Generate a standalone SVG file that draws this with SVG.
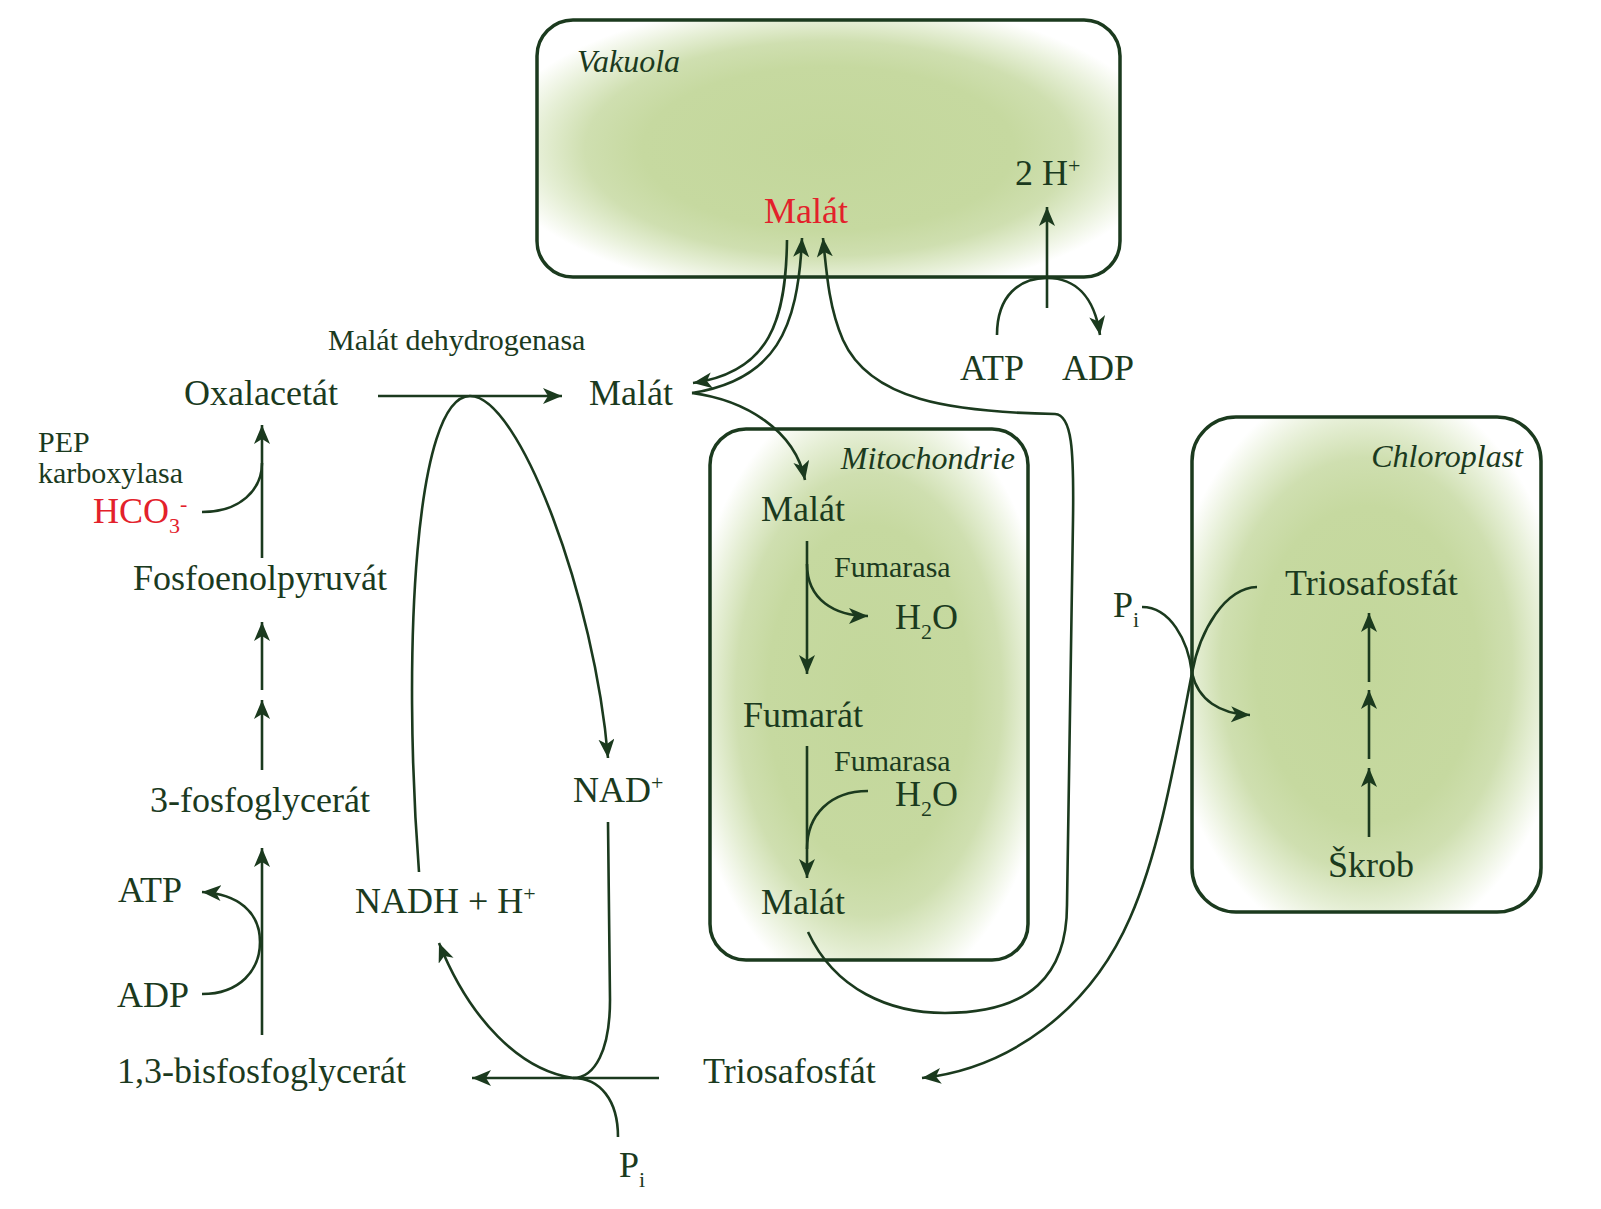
<svg xmlns="http://www.w3.org/2000/svg" width="1601" height="1209" viewBox="0 0 1601 1209">
<style>
  text { font-family: "Liberation Serif", "Times New Roman", serif; fill: #1b3a1e; font-size: 36px; }
  .s { font-size: 30px; }
  .it { font-style: italic; font-size: 32px; }
  .red { fill: #e3212b; }
  .sub { font-size: 22px; }
  .box { stroke: #1b3a1e; stroke-width: 3.5; }
  .c { fill: none; stroke: #1b3a1e; stroke-width: 2.6; }
  .a { marker-end: url(#ah); }
</style>
<defs>
  <radialGradient id="g" cx="0.5" cy="0.5" r="0.58">
    <stop offset="0" stop-color="#c3d79b"/>
    <stop offset="0.55" stop-color="#c6d9a0"/>
    <stop offset="0.72" stop-color="#cfdfb0"/>
    <stop offset="0.86" stop-color="#e6efd6"/>
    <stop offset="1" stop-color="#ffffff"/>
  </radialGradient>
  <marker id="ah" markerUnits="userSpaceOnUse" markerWidth="22" markerHeight="18" refX="19" refY="8" orient="auto">
    <path d="M0,0 L19,8 L0,16 L5,8 Z" fill="#1b3a1e"/>
  </marker>
</defs>

<g id="vakuola">
  <rect class="box" x="537" y="20" width="583" height="257" rx="36" fill="url(#g)"/>
  <text class="it" x="577" y="72">Vakuola</text>
  <text class="red" x="764" y="223">Malát</text>
  <text x="1015" y="185">2 H<tspan class="sub" dy="-12">+</tspan></text>
</g>

<g id="mitochondrie">
  <rect class="box" x="710" y="429" width="318" height="531" rx="36" fill="url(#g)"/>
  <text class="it" x="1015" y="469" text-anchor="end">Mitochondrie</text>
  <text x="761" y="521">Malát</text>
  <text class="s" x="834" y="577">Fumarasa</text>
  <text x="895" y="629">H<tspan class="sub" dy="10">2</tspan><tspan dy="-10">O</tspan></text>
  <text x="743" y="727">Fumarát</text>
  <text class="s" x="834" y="771">Fumarasa</text>
  <text x="895" y="806">H<tspan class="sub" dy="10">2</tspan><tspan dy="-10">O</tspan></text>
  <text x="761" y="914">Malát</text>
</g>

<g id="chloroplast">
  <rect class="box" x="1192" y="417" width="349" height="495" rx="44" fill="url(#g)"/>
  <text class="it" x="1523" y="467" text-anchor="end">Chloroplast</text>
  <text x="1285" y="595">Triosafosfát</text>
  <text x="1328" y="877">Škrob</text>
</g>

<g id="labels">
  <text x="960" y="380">ATP</text>
  <text x="1062" y="380">ADP</text>
  <text class="s" x="328" y="350">Malát dehydrogenasa</text>
  <text x="184" y="405">Oxalacetát</text>
  <text x="589" y="405">Malát</text>
  <text class="s" x="38" y="452">PEP</text>
  <text class="s" x="38" y="483">karboxylasa</text>
  <text class="red" x="93" y="523">HCO<tspan class="sub" dy="10">3</tspan><tspan class="sub" dy="-22">-</tspan></text>
  <text x="133" y="590">Fosfoenolpyruvát</text>
  <text x="150" y="812">3-fosfoglycerát</text>
  <text x="118" y="902">ATP</text>
  <text x="117" y="1007">ADP</text>
  <text x="117" y="1083">1,3-bisfosfoglycerát</text>
  <text x="355" y="913">NADH + H<tspan class="sub" dy="-12">+</tspan></text>
  <text x="573" y="802">NAD<tspan class="sub" dy="-12">+</tspan></text>
  <text x="703" y="1083">Triosafosfát</text>
  <text x="619" y="1177">P<tspan class="sub" dy="10">i</tspan></text>
  <text x="1113" y="617">P<tspan class="sub" dy="10">i</tspan></text>
</g>

<g id="connectors">
  <path class="c a" d="M1047,308 L1047,207"/>
  <path class="c a" d="M997,335 C997,295 1020,278 1047,278 C1074,278 1094,295 1100,335"/>
  <path class="c a" d="M787,240 C786,320 770,372 693,383"/>
  <path class="c a" d="M692,393 C775,380 798,330 802,238"/>
  <path class="c a" d="M808,932 C835,990 890,1013 945,1013 C1030,1013 1067,975 1067,905 L1073,520 C1074,450 1072,415 1055,414 C950,412 870,400 843,340 C830,310 827,280 823,238"/>
  <path class="c a" d="M692,393 C745,400 795,430 805,480"/>
  <path class="c a" d="M378,396 L562,396"/>
  <path class="c a" d="M419,872 C402,650 415,396 470,396 C520,396 595,600 608,758"/>
  <path class="c" d="M608,822 L610,1000 C610,1050 595,1078 573,1078"/>
  <path class="c a" d="M659,1078 L472,1078"/>
  <path class="c a" d="M573,1078 C520,1070 470,1020 439,943"/>
  <path class="c" d="M618,1137 C618,1100 600,1078 573,1078"/>
  <path class="c a" d="M1257,587 C1225,588 1200,630 1192,673 C1175,760 1160,850 1130,918 C1090,1010 1010,1068 922,1078"/>
  <path class="c a" d="M1142,607 C1170,607 1188,640 1192,673 C1198,700 1220,714 1250,715"/>
  <path class="c a" d="M1369,682 L1369,613"/>
  <path class="c a" d="M1369,759 L1369,690"/>
  <path class="c a" d="M1369,837 L1369,768"/>
  <path class="c a" d="M807,541 L807,674"/>
  <path class="c a" d="M807,564 C807,600 835,616 868,616"/>
  <path class="c a" d="M807,746 L807,878"/>
  <path class="c" d="M868,791 C830,791 807,815 807,849"/>
  <path class="c" d="M202,512 C240,512 262,490 262,463"/>
  <path class="c a" d="M262,558 L262,425"/>
  <path class="c a" d="M262,690 L262,622"/>
  <path class="c a" d="M262,770 L262,700"/>
  <path class="c a" d="M262,1035 L262,848"/>
  <path class="c a" d="M202,994 C240,994 260,970 260,942 C260,912 238,894 202,892"/>
</g>
</svg>
